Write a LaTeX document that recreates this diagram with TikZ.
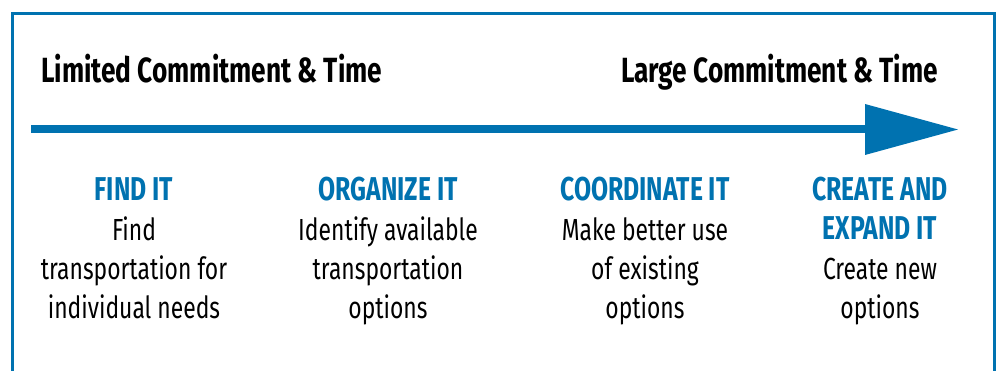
\documentclass[tikz,border=0pt]{standalone}
\usepackage{fontspec}
\setmainfont{Fira Sans}[FakeStretch=0.75]
\definecolor{brand}{RGB}{0,114,176}
\begin{document}
\begin{tikzpicture}[x=1pt,y=-1pt,
  lbl/.style={inner sep=0pt, font=\bfseries\fontsize{35}{40}\selectfont},
  head/.style={anchor=base, inner sep=0pt, text=brand, font=\bfseries\fontsize{33}{40}\selectfont},
  body/.style={anchor=base, inner sep=0pt, font=\fontsize{30.5}{40}\selectfont}]
\useasboundingbox (0,0) rectangle (997,371);
% frame (open at the bottom)
\draw[brand, line width=3pt] (12.5,371) -- (12.5,13.5) -- (994,13.5) -- (994,371);
% time arrow
\coordinate (a0) at (31,129.5);
\coordinate (a1) at (866,129.5);
\coordinate (tip) at (958,129.5);
\draw[brand, line width=8pt] (a0) -- (a1);
\fill[brand] (865,104) -- (tip) -- (865,155) -- cycle;
% end labels
\node[lbl, anchor=base west] (lim) at (41,83) {Limited Commitment \& Time};
\node[lbl, anchor=base east] (lrg) at (938,83) {Large Commitment \& Time};
% column 1
\node[head] (h1) at (134,201) {FIND IT};
\node[body] (b1a) at (134,241) {Find};
\node[body] (b1b) at (134,280) {transportation for};
\node[body] (b1c) at (134,319) {individual needs};
% column 2
\node[head] (h2) at (388,201) {ORGANIZE IT};
\node[body] (b2a) at (388,241) {Identify available};
\node[body] (b2b) at (388,280) {transportation};
\node[body] (b2c) at (388,319) {options};
% column 3
\node[head] (h3) at (645,201) {COORDINATE IT};
\node[body] (b3a) at (645,241) {Make better use};
\node[body] (b3b) at (645,280) {of existing};
\node[body] (b3c) at (645,319) {options};
% column 4
\node[head] (h4a) at (880,201) {CREATE AND};
\node[head] (h4b) at (880,240) {EXPAND IT};
\node[body] (b4a) at (880,280) {Create new};
\node[body] (b4b) at (880,319) {options};
\end{tikzpicture}
\end{document}
